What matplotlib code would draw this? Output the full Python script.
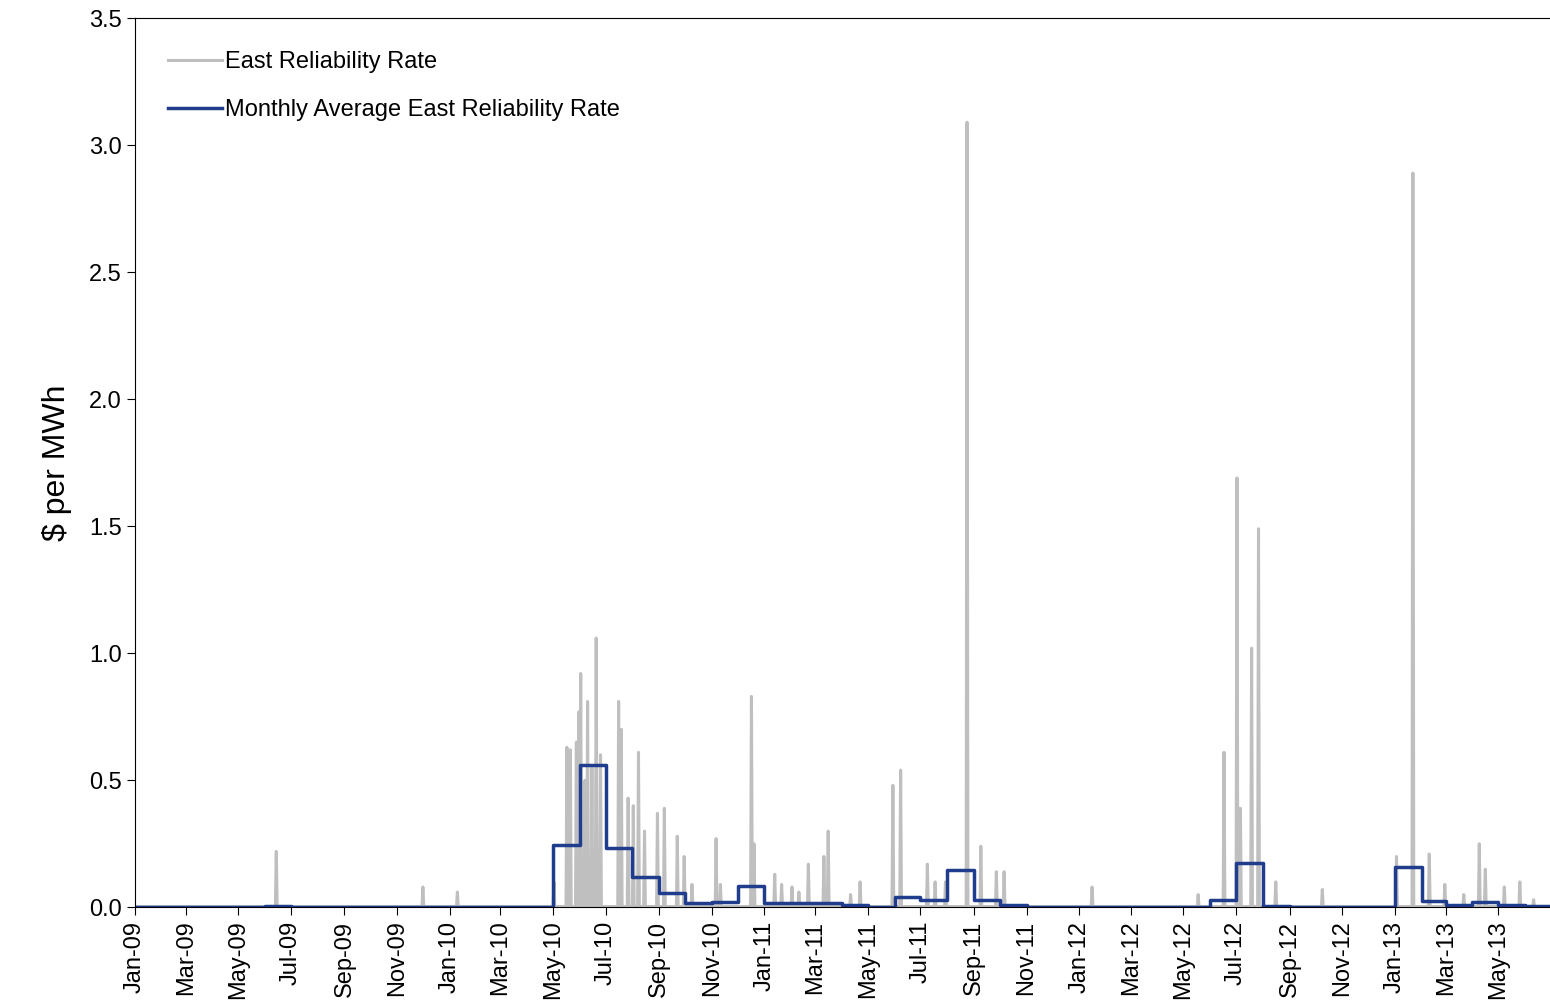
import matplotlib
matplotlib.use("Agg")
import matplotlib.pyplot as plt
import matplotlib.dates as mdates
import pandas as pd
import numpy as np

plt.rcParams['font.family'] = ['Liberation Sans Narrow', 'Liberation Sans', 'DejaVu Sans']

spike_dates = ["2009-06-14","2009-12-01","2010-01-10","2010-05-02","2010-05-17","2010-05-21","2010-05-28",
 "2010-05-31","2010-06-02","2010-06-07","2010-06-10","2010-06-15","2010-06-20","2010-06-25","2010-07-16",
 "2010-07-19","2010-07-27","2010-08-02","2010-08-08","2010-08-15","2010-08-30","2010-09-07","2010-09-22",
 "2010-09-30","2010-10-09","2010-11-06","2010-11-11","2010-12-17","2010-12-20","2011-01-13","2011-01-21",
 "2011-02-02","2011-02-10","2011-02-21","2011-03-11","2011-03-16","2011-04-11","2011-04-22","2011-05-30",
 "2011-06-08","2011-07-09","2011-07-18","2011-07-30","2011-08-24","2011-09-09","2011-09-27","2011-10-06",
 "2012-01-16","2012-05-18","2012-06-17","2012-07-02","2012-07-06","2012-07-19","2012-07-27","2012-08-16",
 "2012-10-09","2013-01-03","2013-01-22","2013-02-10","2013-02-28","2013-03-22","2013-04-09","2013-04-16",
 "2013-05-08","2013-05-26","2013-06-11"]
spike_values = [0.22,0.08,0.06,0.10,0.63,0.62,0.65,0.77,0.92,0.50,0.81,0.55,1.06,0.60,0.81,0.70,0.43,0.40,
 0.61,0.30,0.37,0.39,0.28,0.20,0.09,0.27,0.09,0.83,0.25,0.13,0.09,0.08,0.06,0.17,0.20,0.30,0.05,0.10,0.48,
 0.54,0.17,0.10,0.10,3.09,0.24,0.14,0.14,0.08,0.05,0.61,1.69,0.39,1.02,1.49,0.10,0.07,0.20,2.89,0.21,0.09,
 0.05,0.25,0.15,0.08,0.10,0.03]

months = pd.date_range("2009-01-01", "2013-06-01", freq="MS")
monthly_avg = [0.002,0.002,0.002,0.002,0.002,0.006,0.002,0.002,0.002,0.002,0.002,0.002,
 0.003,0.003,0.003,0.003,0.245,0.56,0.235,0.12,0.055,0.015,0.02,0.085,
 0.015,0.015,0.018,0.01,0.003,0.04,0.03,0.145,0.03,0.01,0.002,0.002,
 0.002,0.002,0.002,0.002,0.002,0.03,0.175,0.005,0.003,0.003,0.003,0.003,
 0.16,0.025,0.01,0.02,0.01,0.005]

days = pd.date_range("2009-01-01", "2013-06-30", freq="D")
daily = pd.Series(0.003, index=days)
for d, v in zip(spike_dates, spike_values):
    daily[pd.Timestamp(d)] = v

fig = plt.figure(figsize=(15.5, 10.07), dpi=100)
ax = fig.add_axes([0.087, 0.099, 0.913, 0.883])
ax.plot(daily.index, daily.values, color="#bfbfbf", lw=2.2, label="East Reliability Rate")
sx = list(months) + [pd.Timestamp("2013-07-01")]
sy = monthly_avg + [monthly_avg[-1]]
ax.step(sx, sy, where="post", color="#1f3d8c", lw=2.5, label="Monthly Average East Reliability Rate")

ax.set_xlim(pd.Timestamp("2009-01-01"), pd.Timestamp("2013-06-30"))
ax.set_ylim(0, 3.5)
ax.set_yticks(np.arange(0, 3.51, 0.5))
ax.yaxis.set_major_formatter(plt.FormatStrFormatter("%.1f"))
ax.xaxis.set_major_locator(mdates.MonthLocator(bymonth=[1,3,5,7,9,11]))
ax.xaxis.set_major_formatter(mdates.DateFormatter("%b-%y"))
plt.setp(ax.get_xticklabels(), rotation=90)
ax.tick_params(labelsize=17, length=6, direction="out")
ax.spines["right"].set_visible(False)
ax.set_ylabel("$ per MWh", fontsize=23, labelpad=12)
ax.legend(loc="upper left", frameon=False, fontsize=17, handlelength=2.3, handletextpad=0.1,
          labelspacing=1.1, borderaxespad=1.0)
fig.savefig("out.png", dpi=100)
